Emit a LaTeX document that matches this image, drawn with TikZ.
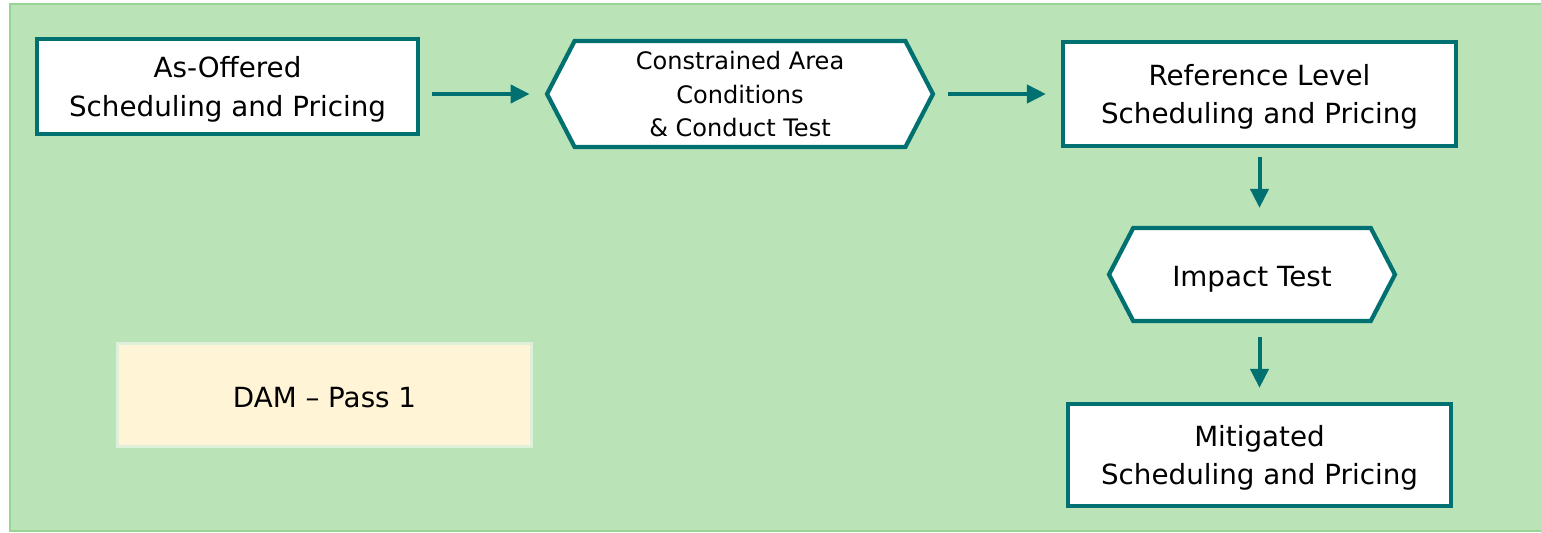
\documentclass[tikz,border=0pt]{standalone}
\usepackage{fontspec}
\setmainfont{DejaVu Sans}
\usetikzlibrary{arrows.meta,shapes.symbols}

\definecolor{trait}{RGB}{0,112,112}
\definecolor{fond}{RGB}{186,227,184}
\definecolor{bordfond}{RGB}{152,212,148}
\definecolor{creme}{RGB}{255,244,214}
\definecolor{bordcreme}{RGB}{222,240,218}

\begin{document}
\begin{tikzpicture}[x=0.02cm,y=-0.02cm,
    boite/.style={draw=trait, line width=0.085cm, fill=white, align=center,
        inner sep=0pt, text depth=0pt, font=\fontsize{15.8}{21.8}\selectfont},
    hexa/.style={boite, shape=signal, signal to=west and east,
        signal pointer angle=125},
    fleche/.style={draw=trait, line width=0.08cm,
        -{Triangle[length=0.38cm,width=0.36cm]}}]
    % Fond vert
    \useasboundingbox (0,0) rectangle (1541,533);
    \draw[fill=fond, draw=bordfond, line width=0.04cm] (10,4) rectangle (1545,531);

    % Etapes du haut
    \node[boite, minimum width=7.62cm, minimum height=1.90cm] (offre) at (227.5,86.5)
        {As-Offered\\Scheduling and Pricing};
    \node[hexa, minimum width=7.72cm, minimum height=2.12cm,
        font=\fontsize{13.7}{19.2}\selectfont] (conduite) at (740,94)
        {Constrained Area\\Conditions\\\& Conduct Test};
    \node[boite, minimum width=7.86cm, minimum height=2.08cm] (reference) at (1259.5,94)
        {Reference Level\\Scheduling and Pricing};

    % Etapes de droite
    \node[hexa, minimum width=5.72cm, minimum height=1.86cm, text height=13.5pt] (impact)
        at (1252,274.5) {Impact Test};
    \node[boite, minimum width=7.66cm, minimum height=2.04cm] (mitige) at (1259.5,455)
        {Mitigated\\Scheduling and Pricing};

    % Etiquette de la passe
    \node[draw=bordcreme, fill=creme, line width=0.06cm, inner sep=0pt,
        minimum width=8.28cm, minimum height=2.06cm, text height=15pt,
        font=\fontsize{15.8}{21.8}\selectfont] (passe) at (324.5,395) {DAM -- Pass 1};

    % Fleches
    \draw[fleche, shorten <=0.24cm, shorten >=0.3cm] (offre.east |- conduite.west) -- (conduite.west);
    \draw[fleche, shorten <=0.26cm, shorten >=0.3cm] (conduite.east) -- (reference.west);
    \draw[fleche, shorten <=0.18cm, shorten >=0.36cm] (reference.south) -- (reference.south |- impact.north);
    \draw[fleche, shorten <=0.28cm, shorten >=0.28cm] (mitige.north |- impact.south) -- (mitige.north);
\end{tikzpicture}
\end{document}
